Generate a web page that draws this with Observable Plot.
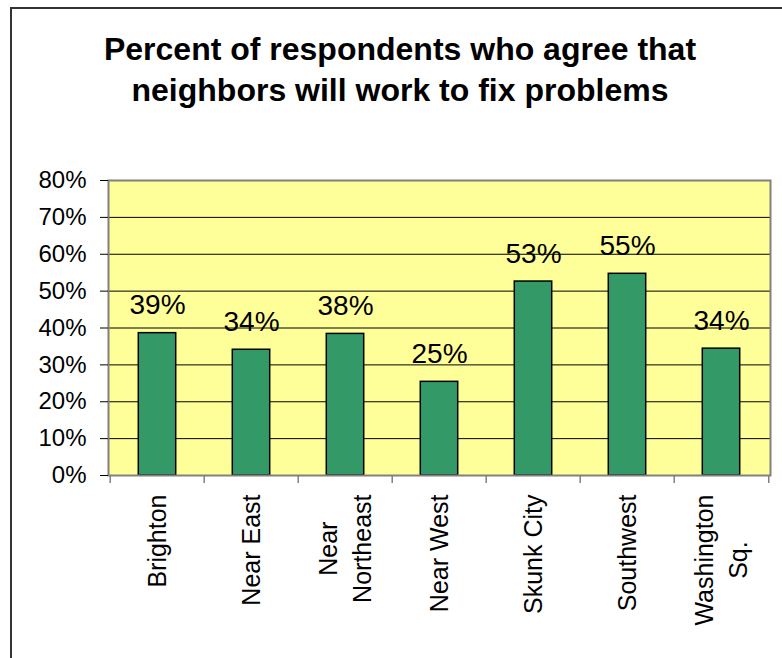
<!DOCTYPE html>
<html>
<head>
<meta charset="utf-8">
<script src="https://cdn.jsdelivr.net/npm/d3@7"></script>
<script src="https://cdn.jsdelivr.net/npm/@observablehq/plot@0.6"></script>
<style>
  html, body { margin: 0; padding: 0; background: #fff; }
  #wrap { position: relative; width: 782px; height: 658px; overflow: hidden; background: #fff;
          font-family: "Liberation Sans", Arial, sans-serif; }
  #border { position: absolute; left: 10px; top: 7px; width: 900px; height: 900px;
            border-left: 2px solid #333; border-top: 2px solid #333; box-sizing: border-box; }
  #title { position: absolute; left: 0; width: 800px; top: 29px; text-align: center;
           font-weight: bold; font-size: 32px; line-height: 41px; color: #000; }
  #chart { position: absolute; left: 0; top: 150px; }
</style>
</head>
<body>
<div id="wrap">
  <div id="border"></div>
  <div id="title">Percent of respondents who agree that<br>neighbors will work to fix problems</div>
  <div id="chart"></div>
</div>
<script>
// Data
const categories = ["Brighton", "Near East", "Near\nNortheast", "Near West", "Skunk City", "Southwest", "Washington\nSq."];
const values = [38.6, 34.1, 38.4, 25.4, 52.6, 54.7, 34.4];
const yTicks = [0, 10, 20, 30, 40, 50, 60, 70, 80];
const gridLines = [10, 20, 30, 40, 50, 60, 70];

const data = categories.map((c, i) => ({category: c, value: values[i], label: Math.round(values[i]) + "%"}));

const W = 782, H = 508;
const mL = 108, mR = 12, mT = 30, mB = 183;
const step = (W - mL - mR) / categories.length;
const barInset = (step - 38) / 2;
const font = '"Liberation Sans", Arial, sans-serif';
const xFont = 25;

// measure label widths for top-aligned, centered multi-line labels
const ctx = document.createElement("canvas").getContext("2d");
ctx.font = xFont + "px " + font;
const labelWidth = c => Math.max(...c.split("\n").map(s => ctx.measureText(s).width));

const labelMarks = categories.map(c =>
  Plot.text([c], {
    x: d => d, frameAnchor: "bottom", rotate: -90, textAnchor: "middle", lineAnchor: "middle",
    lineHeight: 1.35, dy: 19 + labelWidth(c) / 2, dx: -2, fontSize: xFont, fill: "#000"
  })
);

const chart = Plot.plot({
  width: W, height: H,
  marginLeft: mL, marginRight: mR, marginTop: mT, marginBottom: mB,
  style: {fontFamily: font, background: "transparent", overflow: "visible"},
  x: {domain: categories, padding: 0, label: null},
  y: {domain: [0, 80], label: null},
  marks: [
    Plot.frame({fill: "#FFFF99", stroke: null}),
    Plot.ruleY(gridLines, {stroke: "#000", strokeWidth: 1}),
    Plot.barY(data, {x: "category", y: "value", fill: "#339966", stroke: "#000", strokeWidth: 1.5,
                     insetLeft: barInset, insetRight: barInset}),
    Plot.frame({stroke: "#808080", strokeWidth: 2}),
    Plot.text(data, {x: "category", y: "value", text: "label", dy: -28, fontSize: 28,
                     textAnchor: "middle", lineAnchor: "middle", fill: "#000"}),
    Plot.axisY({ticks: yTicks, tickFormat: d => d + "%", tickSize: 8, tickPadding: 14,
                fontSize: 24, stroke: "#000", fill: "#000", label: null}),
    Plot.axisX({ticks: categories, tickSize: 8, dx: -step / 2, text: null, label: null, stroke: "#808080", strokeWidth: 1.5}),
    Plot.axisX({ticks: [categories[categories.length - 1]], tickSize: 8, dx: step / 2, text: null, label: null, stroke: "#808080", strokeWidth: 1.5}),
    ...labelMarks
  ]
});
document.getElementById("chart").appendChild(chart);
</script>
</body>
</html>
